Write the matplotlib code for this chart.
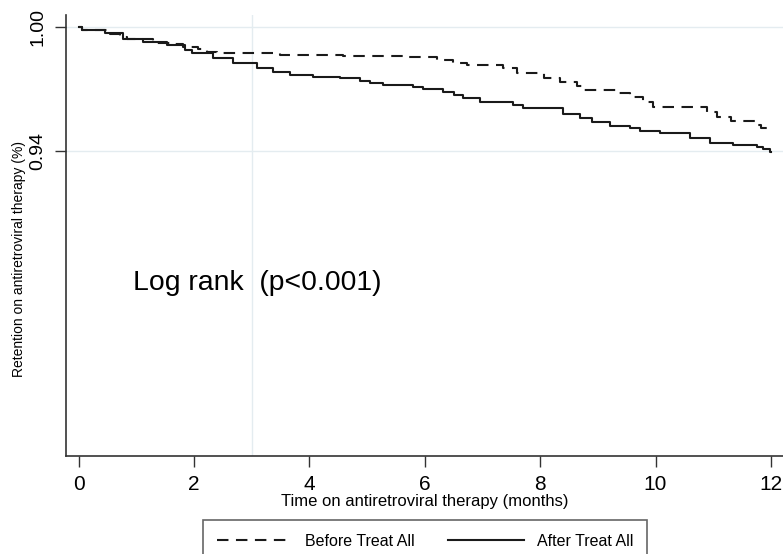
import matplotlib
matplotlib.use('Agg')
import matplotlib.pyplot as plt

plt.rcParams['font.family'] = ['Liberation Sans', 'DejaVu Sans']

# Kaplan-Meier estimates (months, retention)
t_before = [0, 0.05, 0.55, 0.72, 0.84, 1.29, 1.58, 1.81, 2.07, 2.22, 2.39, 3.49, 4.58, 5.69,
            6.21, 6.49, 6.73, 7.36, 7.6, 8.06, 8.35, 8.64, 8.75, 9.33, 9.56, 9.79, 9.96,
            10.9, 11.07, 11.3, 11.76, 11.82, 12.0]
s_before = [1.0, 0.9982, 0.9965, 0.9952, 0.9939, 0.9923, 0.9917, 0.99, 0.9891, 0.988, 0.9872,
            0.9864, 0.9859, 0.9852, 0.9839, 0.9826, 0.9815, 0.9799, 0.9778, 0.9751, 0.9734,
            0.9714, 0.9694, 0.9681, 0.9662, 0.9638, 0.9611, 0.959, 0.9565, 0.9546, 0.9525,
            0.9509, 0.9509]

t_after = [0, 0.05, 0.46, 0.77, 1.12, 1.53, 1.85, 1.97, 2.33, 2.68, 3.09, 3.37, 3.67, 4.06,
           4.53, 4.88, 5.05, 5.28, 5.8, 5.97, 6.32, 6.5, 6.66, 6.96, 7.53, 7.7, 8.4, 8.69,
           8.9, 9.21, 9.56, 9.73, 10.08, 10.6, 10.94, 11.34, 11.76, 11.86, 11.98, 12.0]
s_after = [1.0, 0.9982, 0.9968, 0.9939, 0.9928, 0.9912, 0.9888, 0.9872, 0.9847, 0.9823,
           0.9799, 0.9783, 0.9767, 0.9756, 0.9751, 0.9739, 0.973, 0.9718, 0.9707, 0.9697,
           0.9686, 0.967, 0.9654, 0.9638, 0.9622, 0.9606, 0.9579, 0.9558, 0.9541, 0.952,
           0.9509, 0.9498, 0.9485, 0.9461, 0.944, 0.9429, 0.9421, 0.9408, 0.9397, 0.9397]

x_ticks = [0, 2, 4, 6, 8, 10, 12]
y_ticks = [0.94, 1.00]
y_labels = ['0.94', '1.00']

fig = plt.figure(figsize=(7.83, 5.54), dpi=100)
ax = fig.add_axes([0.0839, 0.1774, 0.9161, 0.7955])

grid_c = '#e4ecf0'
for yv in y_ticks:
    ax.axhline(yv, color=grid_c, lw=1.0, zorder=0)
ax.axvline(3, color=grid_c, lw=1.0, zorder=0)

ax.plot(t_before, s_before, drawstyle='steps-post', color='#1a1a1a', lw=1.5,
        linestyle=(0, (5.5, 3.6)), label='Before Treat All')
ax.plot(t_after, s_after, drawstyle='steps-post', color='#1a1a1a', lw=1.5,
        label='After Treat All')

ax.set_xlim(-0.225, 12.21)
ax.set_ylim(0.7929, 1.00565)

ax.set_xticks(x_ticks)
ax.set_xticklabels([str(v) for v in x_ticks], fontsize=15)
ax.set_yticks(y_ticks)
ax.set_yticklabels(y_labels, fontsize=14, rotation=90, va='center')
ax.tick_params(axis='both', length=8, width=1.0, color='#333333', pad=6)

for side in ['top', 'right']:
    ax.spines[side].set_visible(False)
for side in ['left', 'bottom']:
    ax.spines[side].set_color('#333333')
    ax.spines[side].set_linewidth(1.2)

ax.set_xlabel('Time on antiretroviral therapy (months)', fontsize=12, labelpad=0)
ax.set_ylabel('Retention on antiretroviral therapy (%)', fontsize=10)
ax.yaxis.set_label_coords(-0.055, 0.447)

ax.text(0.94, 0.8729, 'Log rank  (p<0.001)', fontsize=20.4, ha='left', va='baseline')

leg = fig.legend(loc='upper center', bbox_to_anchor=(0.5428, 0.0614), ncol=2,
                 fontsize=11.5, frameon=True, fancybox=False, borderaxespad=0,
                 handlelength=4.75, handletextpad=0.8, columnspacing=2.1, borderpad=0.85)
leg.get_frame().set_edgecolor('#404040')
leg.get_frame().set_linewidth(1.2)

fig.savefig('out.png', dpi=100)
